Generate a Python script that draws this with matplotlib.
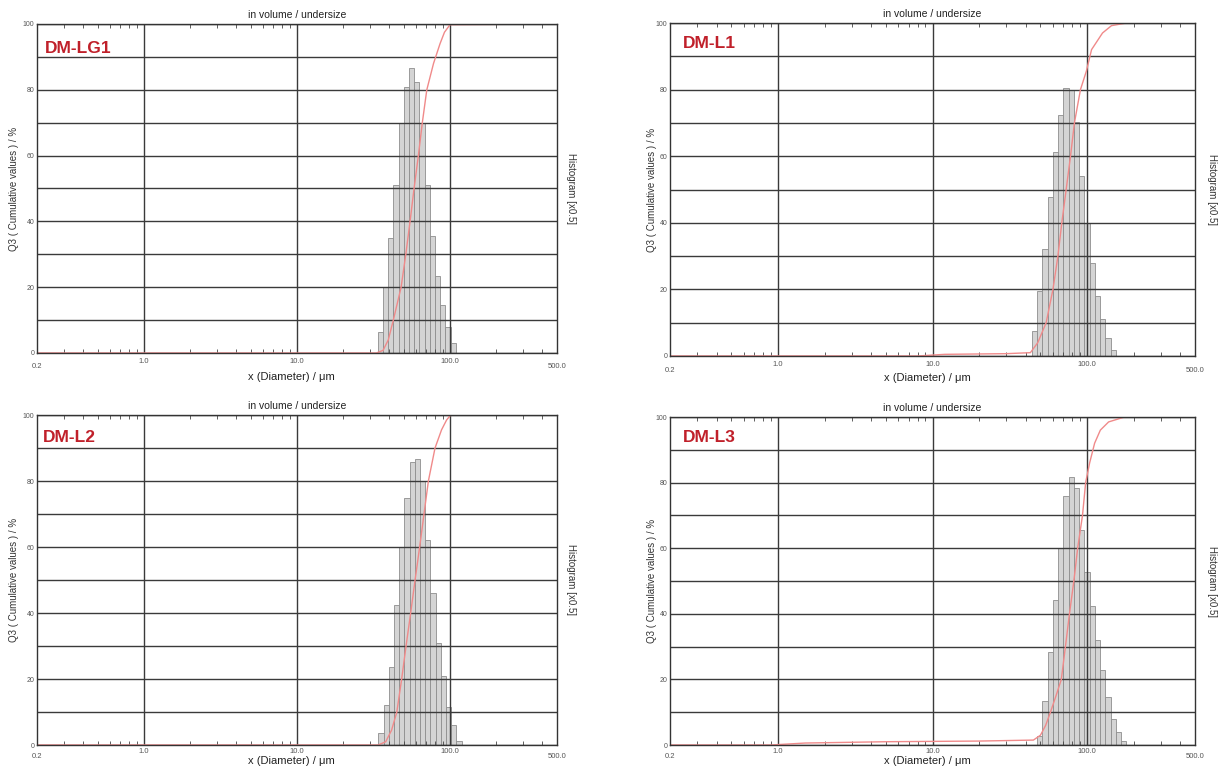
import numpy as np
import matplotlib
matplotlib.use('Agg')
import matplotlib.pyplot as plt
from matplotlib.ticker import FixedLocator, NullFormatter
import matplotlib.transforms as mtransforms

plt.rcParams['font.family'] = ['Liberation Sans', 'DejaVu Sans']

# ---------------- data ----------------
sample_names = ['DM-LG1', 'DM-L1', 'DM-L2', 'DM-L3']

bin_ratio = 1.0814                      # size ratio between neighbouring channels
first_edges = [33.7, 44.0, 34.0, 47.5]  # lower edge (um) of first non-empty channel

hist_lg1 = [6.5, 20, 35, 51, 70, 81, 86.5, 82.5, 70, 51, 35.5, 23.5, 14.5, 8, 3]
hist_l1 = [7.5, 19.5, 32, 47.6, 61.3, 72.3, 80.5, 79.8, 70.3, 54.1, 40, 28, 18, 11, 5.3, 1.8]
hist_l2 = [3.7, 12.1, 23.7, 42.4, 60.1, 74.7, 85.9, 86.6, 80.0, 62, 46, 31, 21, 11.6, 6, 1.2]
hist_l3 = [2.8, 13.3, 28.4, 44.2, 60.2, 75.9, 81.7, 78.4, 65.7, 52.7, 42.4, 32, 22.9, 14.5, 7.9, 3.9, 1.1]

cum_lg1_x = [0.2, 33.0, 36.5, 39.5, 42.6, 47.9, 51.4, 54.8, 58.2, 62.1, 65.9, 70.5, 78.0, 86.0, 92.0, 100.0, 500.0]
cum_lg1_y = [0, 0, 0.8, 4, 10, 20, 30, 40, 50, 60, 70, 80, 88, 94, 97.5, 99.8, 100]

cum_l1_x = [0.2, 8.0, 12.0, 30.0, 43.0, 48.0, 54.4, 60.2, 64.8, 68.7, 73.3, 78.2, 82.9, 90.7, 99.0, 107.0, 126.0, 144.0, 180.0, 500.0]
cum_l1_y = [0, 0, 0.5, 0.7, 1.0, 4, 10, 20, 30, 40, 50, 60, 70, 80, 85.5, 92, 97, 99.2, 100, 100]

cum_l2_x = [0.2, 34.0, 38.0, 41.5, 44.9, 48.3, 51.6, 55.3, 59.1, 63.3, 67.6, 72.2, 79.8, 88.0, 95.0, 101.0, 500.0]
cum_l2_y = [0, 0, 1, 4.5, 10, 20, 30, 40, 50, 60, 70, 80, 90, 95.5, 98.5, 100, 100]

cum_l3_x = [0.2, 0.9, 1.5, 5.0, 20.0, 45.0, 50.0, 54.0, 58.0, 63.0, 68.2, 72.5, 77.0, 82.2, 87.0, 93.5, 98.0, 104.0, 112.0, 122.0, 138.0, 175.0, 500.0]
cum_l3_y = [0, 0, 0.6, 1.0, 1.2, 1.5, 3, 6, 10, 15, 20, 30, 40, 50, 60, 70, 80, 86, 92, 96, 98.5, 100, 100]

x_tick_values = [1.0, 10.0, 100.0]
x_tick_labels = ['1.0', '10.0', '100.0']
x_end_values = [0.2, 500.0]
x_end_labels = ['0.2', '500.0']
y_grid_values = [0, 10, 20, 30, 40, 50, 60, 70, 80, 90, 100]
y_tick_labels = ['0', '', '20', '', '40', '', '60', '', '80', '', '100']
x_minor_values = [0.3, 0.4, 0.5, 0.6, 0.7, 0.8, 0.9,
                  2, 3, 4, 5, 6, 7, 8, 9,
                  20, 30, 40, 50, 60, 70, 80, 90,
                  200, 300, 400]

title_text = 'in volume / undersize'
xlabel_text = 'x (Diameter) / μm'
ylabel_text = 'Q3 ( Cumulative values ) / %'
right_label_text = 'Histogram [x0.5]'

hists = [hist_lg1, hist_l1, hist_l2, hist_l3]
cums = [(cum_lg1_x, cum_lg1_y), (cum_l1_x, cum_l1_y), (cum_l2_x, cum_l2_y), (cum_l3_x, cum_l3_y)]

# ---------------- layout ----------------
W, H = 1221, 771
fig = plt.figure(figsize=(W / 100, H / 100), dpi=100)
fig.patch.set_facecolor('white')

# (left, top, right, bottom) in pixels
rects_px = [(37, 24, 557, 353), (670, 23, 1195, 356), (37, 415, 557, 745), (670, 417, 1195, 745)]
label_pos = [(0.015, 0.927), (0.025, 0.937), (0.012, 0.933), (0.025, 0.939)]
ylab_x = [-0.044, -0.034, -0.044, -0.034]
rlab_x = [1.027, 1.032, 1.027, 1.032]
# pixel distances below the axes: tick-label pad (pt), end labels, x label
tick_pad_pt = [3.4, 3.4, 2.0, 2.0]
end_lab_px = [14, 14, 12, 12]
xlab_px = [24, 22, 16, 16]

grid_col = '#3a3a3a'
bar_face = '#d4d4d4'
bar_edge = '#8e8e8e'
cum_col = '#f08a8a'
name_col = '#c0202a'
small_col = '#555555'

for i in range(4):
    l, t, r, b = rects_px[i]
    hpx = b - t
    ax = fig.add_axes([l / W, 1 - b / H, (r - l) / W, hpx / H])
    ax.set_xscale('log')
    ax.set_xlim(0.2, 500)
    ax.set_ylim(0, 100)

    hist = hists[i]
    edges = first_edges[i] * bin_ratio ** np.arange(len(hist) + 1)
    ax.bar(edges[:-1], hist, width=np.diff(edges), align='edge',
           color=bar_face, edgecolor=bar_edge, linewidth=0.6, zorder=1)

    cx, cy = cums[i]
    ax.plot(cx, cy, color=cum_col, lw=1.0, zorder=4)

    # grid
    ax.set_axisbelow(False)
    ax.xaxis.set_major_locator(FixedLocator(x_tick_values))
    ax.set_xticklabels(x_tick_labels)
    ax.xaxis.set_minor_locator(FixedLocator(x_minor_values))
    ax.xaxis.set_minor_formatter(NullFormatter())
    ax.set_yticks(y_grid_values)
    ax.set_yticklabels(y_tick_labels)
    ax.grid(True, which='major', color=grid_col, lw=1.0, zorder=3)

    ax.tick_params(axis='x', which='major', length=0, pad=tick_pad_pt[i], labelsize=5.5,
                   labelcolor=small_col)
    ax.tick_params(axis='x', which='minor', direction='in', top=True, bottom=True,
                   length=3, width=0.6, color='#444444')
    ax.tick_params(axis='y', which='major', length=0, pad=2, labelsize=5, labelcolor=small_col)

    for sp in ax.spines.values():
        sp.set_color('#333333')
        sp.set_linewidth(1.0)
        sp.set_zorder(5)

    trans = mtransforms.blended_transform_factory(ax.transData, ax.transAxes)
    for v, s in zip(x_end_values, x_end_labels):
        ax.text(v, -end_lab_px[i] / hpx, s, transform=trans, ha='center', va='center',
                fontsize=5.5, color=small_col)

    ax.set_title(title_text, fontsize=7.5, color='#222222', pad=4)
    ax.text(0.49, -xlab_px[i] / hpx, xlabel_text, transform=ax.transAxes, ha='center',
            va='center', fontsize=8, color='#222222')
    ax.text(ylab_x[i], 0.5, ylabel_text, transform=ax.transAxes, rotation=90,
            ha='center', va='center', fontsize=7, color='#333333')
    ax.text(rlab_x[i], 0.5, right_label_text, transform=ax.transAxes, rotation=270,
            ha='center', va='center', fontsize=7, color='#333333')

    lx, ly = label_pos[i]
    ax.text(lx, ly, sample_names[i], transform=ax.transAxes, ha='left', va='center',
            fontsize=12.5, fontweight='bold', color=name_col,
            family=['Liberation Sans', 'DejaVu Sans'], zorder=6)

fig.savefig('out.png', dpi=100, facecolor='white')
